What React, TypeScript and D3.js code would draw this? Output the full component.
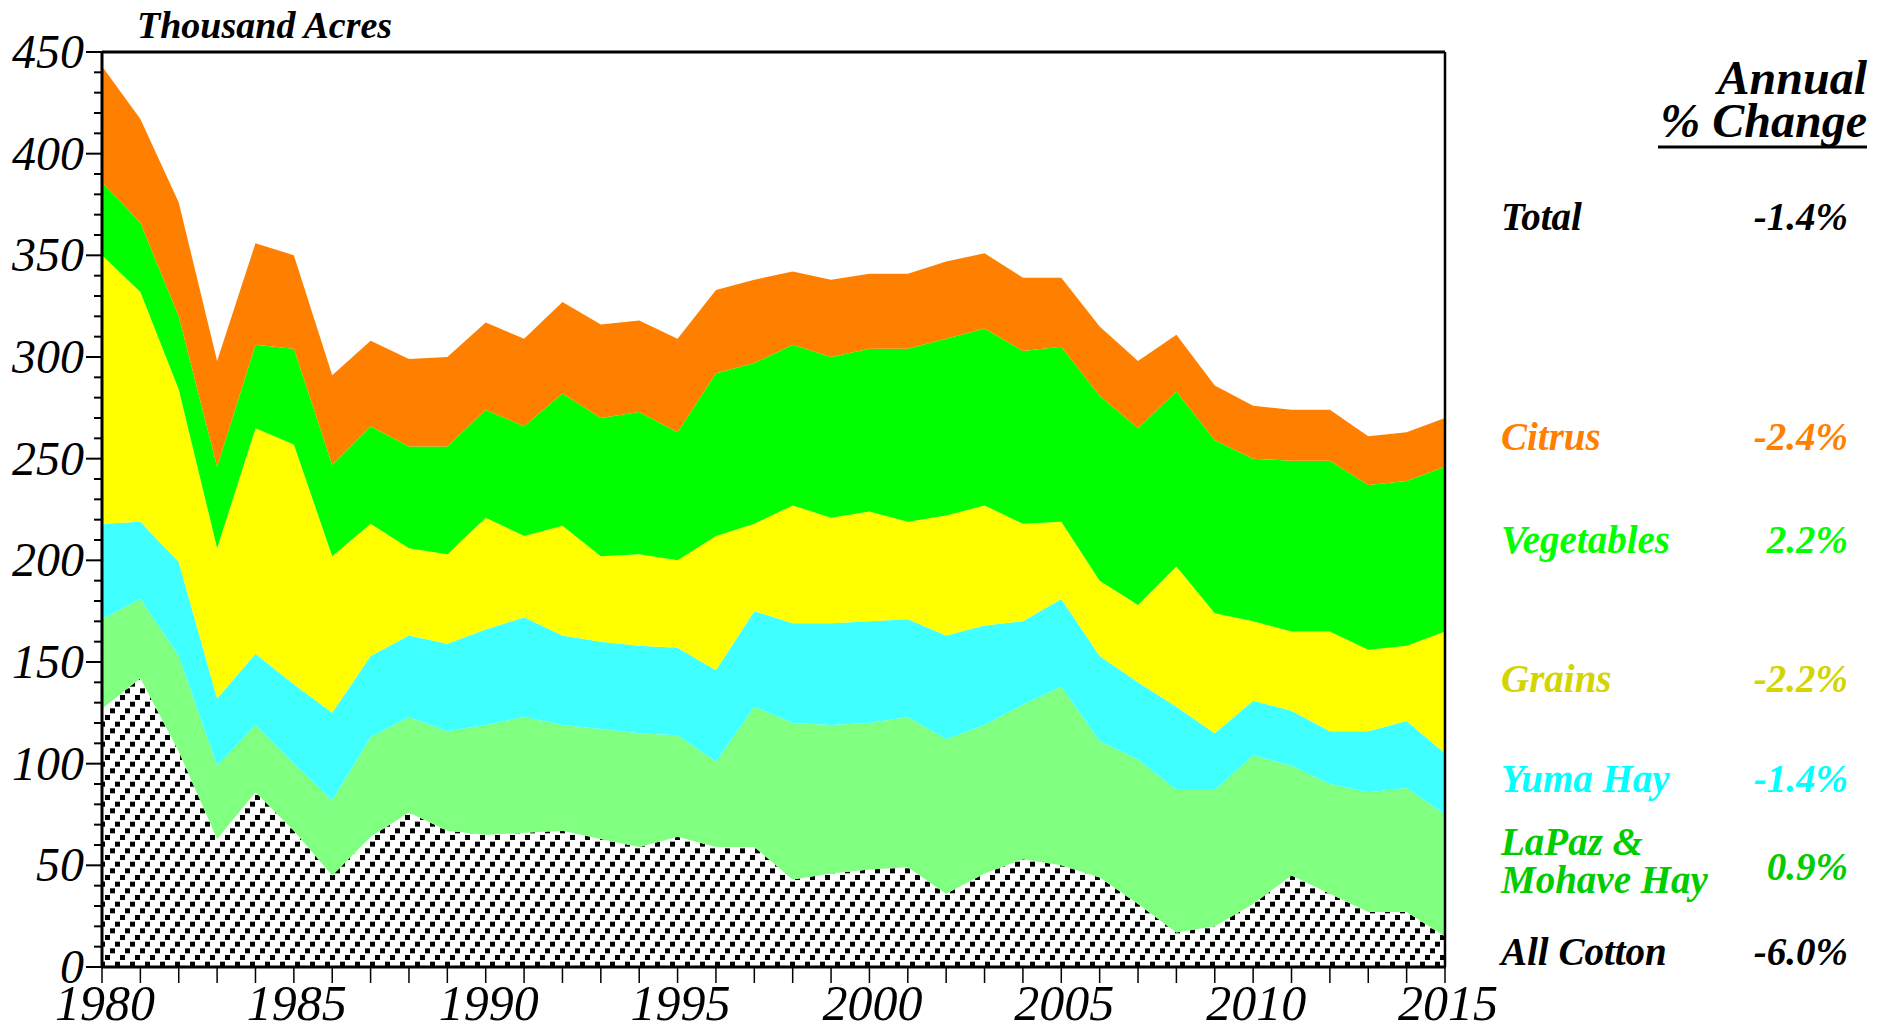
import React from "react";
import * as d3 from "d3";

// years on the x axis
const years = d3.range(1980, 2016);

// thousand acres per crop
const cotton = [127, 142, 106, 63, 86, 67, 45, 64, 76, 67, 65, 66, 67, 63, 59, 64, 59, 59, 43, 46, 48, 49, 36, 46, 53, 50, 44, 31, 17, 20, 31, 45, 36, 27, 27, 15];
const lapazHay = [44, 39, 47, 36, 33, 33, 37, 49, 47, 49, 54, 57, 52, 54, 56, 50, 42, 69, 77, 73, 72, 74, 76, 73, 76, 88, 67, 71, 70, 67, 73, 54, 54, 59, 61, 60];
const yumaHay = [47, 38, 46, 33, 35, 39, 43, 40, 40, 43, 47, 49, 44, 43, 43, 43, 45, 47, 49, 50, 50, 48, 51, 49, 41, 43, 42, 38, 41, 28, 27, 27, 26, 30, 33, 30];
const grains = [132, 113, 85, 74, 111, 118, 77, 65, 43, 44, 55, 40, 54, 42, 45, 43, 66, 43, 58, 52, 54, 48, 59, 59, 48, 38, 37, 38, 69, 59, 39, 39, 49, 40, 37, 60];
const vegetables = [36, 34, 36, 40, 41, 47, 45, 48, 50, 53, 53, 54, 65, 68, 70, 63, 80, 79, 79, 79, 80, 85, 87, 87, 85, 86, 91, 87, 86, 85, 80, 84, 84, 81, 81, 81];
const citrus = [57, 51, 56, 52, 50, 46, 44, 42, 43, 44, 43, 43, 45, 46, 45, 46, 41, 41, 36, 38, 37, 37, 38, 37, 36, 34, 34, 33, 28, 27, 26, 25, 25, 24, 24, 24];

const keys = ["cotton", "lapaz", "yuma", "grains", "vegetables", "citrus"];
const fills = ["url(#hatch)", "#80FF80", "#40FFFF", "#FFFF00", "#00FF00", "#FF8000"];

// legend on the right
const legendLabels = ["Total", "Citrus", "Vegetables", "Grains", "Yuma Hay", "LaPaz &|Mohave Hay", "All Cotton"];
const legendValues = ["-1.4%", "-2.4%", "2.2%", "-2.2%", "-1.4%", "0.9%", "-6.0%"];
const legendColors = ["#000000", "#FF8000", "#00FF00", "#D4D400", "#00FFFF", "#00CC00", "#000000"];
const legendY = [230, 450, 553, 692, 792, 855, 965];
const valueY = [230, 450, 553, 692, 792, 880, 965];

const W = 1895;
const H = 1031;
const left = 102, right = 1445, top = 52, bottom = 967;
const font = "'Liberation Serif', 'Times New Roman', serif";

export default function App() {
  const rows = years.map((yr, i) => ({
    year: yr,
    cotton: cotton[i],
    lapaz: lapazHay[i],
    yuma: yumaHay[i],
    grains: grains[i],
    vegetables: vegetables[i],
    citrus: citrus[i],
  }));

  const series = d3.stack().keys(keys)(rows as any);

  const x = d3.scaleLinear().domain([1980, 2015]).range([left, right]);
  const y = d3.scaleLinear().domain([0, 450]).range([bottom, top]);

  const area = d3
    .area<any>()
    .x((d) => x(d.data.year))
    .y0((d) => y(d[0]))
    .y1((d) => y(d[1]));

  const majorY = d3.range(0, 451, 50);
  const minorY = d3.range(0, 451, 10).filter((v) => v % 50 !== 0);
  const labelYears = d3.range(1980, 2016, 5);

  return (
    <svg width={W} height={H} style={{ position: "absolute", left: 0, top: 0, background: "#fff" }}>
      <defs>
        {/* dashed diagonal hatch for cotton */}
        <pattern id="hatch" patternUnits="userSpaceOnUse" width="15" height="20">
          <rect width="15" height="20" fill="#fff" />
          <rect x="0" y="15" width="5" height="5" fill="#000" />
          <rect x="5" y="8.33" width="5" height="5" fill="#000" />
          <rect x="10" y="1.67" width="5" height="5" fill="#000" />
        </pattern>
      </defs>

      <text x={137} y={38} fontFamily={font} fontSize={38} fontWeight="bold" fontStyle="italic">
        Thousand Acres
      </text>

      {series.map((s, i) => (
        <path key={keys[i]} d={area(s as any) || ""} fill={fills[i]} stroke="none" />
      ))}

      {/* frame */}
      <line x1={left} x2={right} y1={top} y2={top} stroke="#000" strokeWidth={3} />
      <line x1={right} x2={right} y1={top} y2={bottom} stroke="#000" strokeWidth={2.5} />
      <line x1={left} x2={left} y1={top - 1} y2={bottom + 1} stroke="#000" strokeWidth={3} />
      <line x1={left - 1} x2={right + 1} y1={bottom} y2={bottom} stroke="#000" strokeWidth={3} />

      {/* y axis */}
      {majorY.map((v) => (
        <g key={"my" + v}>
          <line x1={left - 16} x2={left} y1={y(v)} y2={y(v)} stroke="#000" strokeWidth={2} />
          <text x={left - 18} y={y(v) + 16} textAnchor="end" fontFamily={font} fontStyle="italic" fontSize={48}>
            {v}
          </text>
        </g>
      ))}
      {minorY.map((v) => (
        <line key={"ny" + v} x1={left - 8} x2={left} y1={y(v)} y2={y(v)} stroke="#000" strokeWidth={2} />
      ))}

      {/* x axis */}
      {years.map((yr) => (
        <line key={"tx" + yr} x1={x(yr)} x2={x(yr)} y1={bottom} y2={bottom + 16} stroke="#000" strokeWidth={1.5} />
      ))}
      {labelYears.map((yr) => (
        <text key={"lx" + yr} x={x(yr) + 3} y={1020} textAnchor="middle" fontFamily={font} fontStyle="italic" fontSize={50}>
          {yr}
        </text>
      ))}

      {/* legend header */}
      <text x={1867} y={94} textAnchor="end" fontFamily={font} fontWeight="bold" fontStyle="italic" fontSize={48}>
        Annual
      </text>
      <text x={1867} y={137} textAnchor="end" fontFamily={font} fontWeight="bold" fontStyle="italic" fontSize={48}>
        % Change
      </text>
      <line x1={1658} x2={1867} y1={147} y2={147} stroke="#000" strokeWidth={3} />

      {legendLabels.map((lab, i) => {
        const parts = lab.split("|");
        return (
          <g key={lab} fill={legendColors[i]} fontFamily={font} fontWeight="bold" fontStyle="italic" fontSize={39}>
            {parts.map((p, j) => (
              <text key={p} x={1501} y={legendY[i] + j * 38}>
                {p}
              </text>
            ))}
            <text x={1848} y={valueY[i]} textAnchor="end">
              {legendValues[i]}
            </text>
          </g>
        );
      })}
    </svg>
  );
}
